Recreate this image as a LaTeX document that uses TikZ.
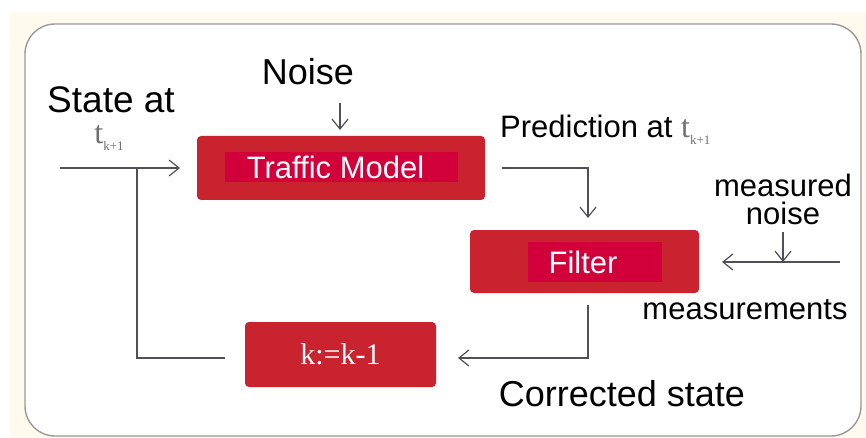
\documentclass[tikz,border=0pt]{standalone}
\usepackage{fontspec}
\setmainfont{Liberation Sans}
\newfontfamily\serifface{Liberation Serif}
\usetikzlibrary{arrows.meta}
\definecolor{cream}{HTML}{FFF9EE}
\definecolor{frame}{HTML}{9A9A9A}
\definecolor{boxred}{HTML}{C8232F}
\definecolor{bandred}{HTML}{D2003A}
\definecolor{linegray}{HTML}{505058}
\definecolor{tgray}{HTML}{707070}
\tikzset{
  outerbox/.style={fill=boxred, rounded corners=4pt, inner sep=0pt},
  bandbox/.style={fill=bandred, inner sep=0pt, text=white, font=\fontsize{31}{31}\selectfont},
  lbl/.style={inner sep=0pt, font=\fontsize{31}{31}\selectfont},
  conn/.style={draw=linegray, line width=1.1pt},
  arr/.style={conn, -{Straight Barb[length=10pt,width=16pt,line width=1.2pt]}},
}
\newcommand{\tsub}{{\serifface\color{tgray}\fontsize{32}{32}\selectfont t\raisebox{-7pt}{\fontsize{13}{13}\selectfont k+1}}}
\begin{document}
\begin{tikzpicture}[x=1pt,y=-1pt]
\useasboundingbox (0,0) rectangle (866,438);
\fill[white] (0,0) rectangle (866,438);
\fill[cream] (10,12) rectangle (866,438);
\draw[frame, fill=white, line width=1.4pt, rounded corners=30pt] (25,24) rectangle (861,436);

% boxes
\node[outerbox, minimum width=288pt, minimum height=64pt] (tm) at (341,168) {};
\node[bandbox, minimum width=233pt, minimum height=30pt] (tmin) at (341.5,167) {\hspace{-12pt}Traffic Model};
\node[outerbox, minimum width=229pt, minimum height=63pt] (fi) at (584.5,261.5) {};
\node[bandbox, minimum width=134pt, minimum height=40pt] (fiin) at (595,262) {\hspace{-24pt}Filter};
\node[outerbox, minimum width=191pt, minimum height=65pt, text=white, font=\serifface\fontsize{30}{30}\selectfont] (kb) at (340.5,354.5) {k:=k-1};

% labels
\node[lbl, font=\fontsize{37}{37}\selectfont, anchor=base] (state) at (111,113) {State at};
\node[inner sep=0pt, anchor=base] (st) at (109,144) {\tsub};
\node[lbl, font=\fontsize{36}{36}\selectfont] (noise) at (308,72) {Noise};
\node[lbl, anchor=west] (pred) at (500,130) {Prediction at \tsub};
\node[lbl, align=center] (mn) at (783,199) {measured\\[-3pt]noise};
\node[lbl] (meas) at (745,310) {measurements};
\node[lbl, font=\fontsize{36}{36}\selectfont] (corr) at (622,394) {Corrected state};

% connector end points
\coordinate (in) at (60,168);
\coordinate (fb) at (137,168);
\coordinate (fbend) at (225,358);
\coordinate (tmin) at (180,168);
\coordinate (nzs) at (340,103);
\coordinate (nze) at (340,130);
\coordinate (ps) at (502,168);
\coordinate (pe) at (588,218);
\coordinate (min) at (840,262);
\coordinate (mine) at (722,262);
\coordinate (mns) at (783,232);
\coordinate (mne) at (783,262);
\coordinate (cs) at (588,305);
\coordinate (ce) at (458,358);

\draw[arr] (in) -- (tmin);
\draw[conn] (fb) |- (fbend);
\draw[arr] (nzs) -- (nze);
\draw[arr] (ps) -| (pe);
\draw[arr] (min) -- (mine);
\draw[arr] (mns) -- (mne);
\draw[arr] (cs) |- (ce);
\end{tikzpicture}
\end{document}
